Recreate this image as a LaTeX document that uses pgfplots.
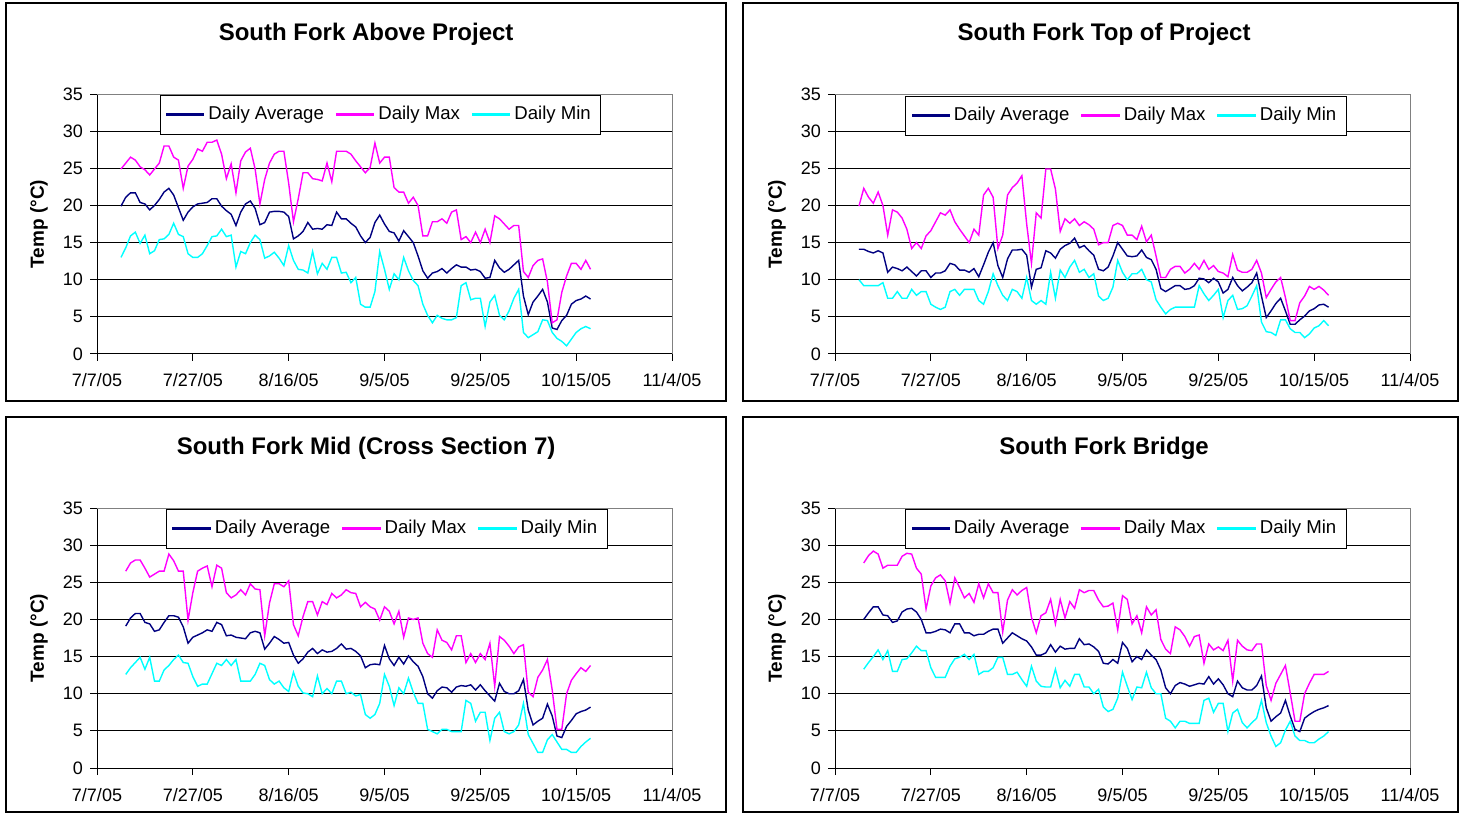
\documentclass[border=0pt]{standalone}
\usepackage{fontspec}
\setmainfont{Liberation Sans}
\usepackage{pgfplots}
\usepackage{pgfplotstable}
\pgfplotsset{compat=1.18}

\definecolor{avgc}{RGB}{0,0,128}
\definecolor{maxc}{RGB}{255,0,255}
\definecolor{minc}{RGB}{0,255,255}

% Daily water temperature (deg C); day 0 = 7/7/05
\pgfplotstableread{
day avg max min
5 19.9 24.9 13.0
6 21.1 25.7 14.3
7 21.7 26.5 15.9
8 21.7 26.1 16.4
9 20.4 25.2 14.9
10 20.2 24.8 16.0
11 19.4 24.1 13.5
12 20.0 24.9 13.9
13 20.8 25.7 15.4
14 21.8 28.0 15.5
15 22.3 28.0 16.1
16 21.4 26.5 17.6
17 19.7 26.1 16.1
18 18.0 22.3 15.8
19 19.1 25.3 13.5
20 19.8 26.2 13.0
21 20.2 27.6 13.0
22 20.3 27.3 13.5
23 20.4 28.5 14.6
24 20.9 28.5 15.8
25 20.9 28.8 15.9
26 19.9 26.9 16.8
27 19.3 23.6 15.8
28 18.8 25.6 16.0
29 17.3 21.7 11.7
30 19.1 26.0 13.8
31 20.2 27.2 13.5
32 20.6 27.7 15.0
33 19.6 24.9 16.0
34 17.4 20.2 15.4
35 17.7 23.5 12.9
36 19.1 25.7 13.2
37 19.2 26.9 13.7
38 19.2 27.3 12.9
39 19.1 27.3 11.9
40 18.5 23.0 14.6
41 15.5 17.8 12.6
42 15.9 20.9 11.4
43 16.5 24.4 11.3
44 17.7 24.4 10.9
45 16.8 23.6 13.8
46 16.9 23.5 10.8
47 16.8 23.3 12.2
48 17.4 25.7 11.4
49 17.3 23.2 13.0
50 19.1 27.3 13.0
51 18.2 27.3 10.9
52 18.2 27.3 11.0
53 17.6 26.9 9.6
54 17.1 26.0 10.3
55 15.9 25.2 6.7
56 15.0 24.4 6.3
57 15.7 25.1 6.3
58 17.7 28.4 8.4
59 18.7 25.7 13.8
60 17.5 26.5 11.4
61 16.5 26.5 8.7
62 16.3 22.4 10.8
63 15.2 21.8 10.0
64 16.6 21.8 13.0
65 15.8 20.3 11.2
66 15.0 21.1 9.9
67 13.2 20.0 9.2
68 11.2 15.9 6.7
69 10.2 15.9 5.2
70 10.9 17.8 4.2
71 11.1 17.8 5.2
72 11.5 18.2 4.8
73 10.9 17.6 4.6
74 11.5 19.1 4.6
75 12.0 19.4 4.9
76 11.7 15.4 9.2
77 11.7 15.8 9.6
78 11.3 15.0 7.3
79 11.4 16.4 7.5
80 11.1 15.0 7.5
81 10.2 16.8 3.7
82 10.3 15.0 7.0
83 12.6 18.6 7.9
84 11.6 18.2 5.2
85 11.0 17.5 4.6
86 11.4 16.8 5.8
87 12.0 17.3 7.5
88 12.6 17.3 8.7
89 7.8 11.1 2.9
90 5.3 10.3 2.2
91 7.0 11.9 2.6
92 7.8 12.6 3.0
93 8.7 12.8 4.6
94 7.0 9.7 4.5
95 3.5 4.2 2.9
96 3.3 4.6 2.1
97 4.5 8.3 1.7
98 5.2 10.5 1.1
99 6.7 12.2 2.0
100 7.2 12.2 2.9
101 7.4 11.4 3.4
102 7.8 12.6 3.7
103 7.4 11.4 3.4
}\aboveproject

\pgfplotstableread{
day avg max min
5 14.1 19.9 10.0
6 14.1 22.3 9.2
7 13.8 21.1 9.2
8 13.6 20.3 9.2
9 13.9 21.8 9.2
10 13.6 20.0 9.6
11 11.0 16.0 7.5
12 11.7 19.4 7.5
13 11.5 19.1 8.4
14 11.2 18.3 7.5
15 11.7 16.8 7.5
16 11.1 14.2 8.7
17 10.5 15.0 7.9
18 11.2 14.2 8.4
19 11.2 15.9 8.4
20 10.3 16.6 6.7
21 10.9 17.8 6.3
22 10.9 19.0 6.0
23 11.2 18.7 6.3
24 12.2 19.4 8.4
25 12.0 17.8 8.7
26 11.3 16.8 7.9
27 11.3 15.9 8.7
28 11.0 15.0 8.7
29 11.5 16.8 8.7
30 10.4 16.0 7.2
31 12.0 21.4 6.7
32 13.7 22.3 8.4
33 15.0 21.1 10.8
34 11.9 14.2 9.2
35 10.3 16.0 7.9
36 12.8 21.4 7.2
37 14.0 22.4 8.7
38 14.0 23.0 8.4
39 14.1 24.0 7.5
40 13.3 17.5 10.3
41 9.0 12.2 7.2
42 11.4 19.0 6.7
43 11.6 18.3 7.2
44 13.9 24.9 6.7
45 13.6 24.9 11.0
46 12.9 22.2 7.5
47 14.1 16.5 11.3
48 14.6 18.2 10.3
49 14.9 17.6 11.7
50 15.6 18.2 12.6
51 14.3 17.3 11.0
52 14.6 17.8 11.4
53 13.9 17.4 10.3
54 13.3 16.8 10.8
55 11.4 14.7 7.8
56 11.2 15.0 7.2
57 11.7 15.0 7.5
58 13.2 17.3 9.0
59 15.0 17.6 12.6
60 14.1 17.3 11.0
61 13.2 16.0 10.0
62 13.1 16.0 10.8
63 13.2 15.4 10.8
64 14.0 17.2 11.4
65 13.0 15.1 10.0
66 12.7 16.0 9.7
67 11.4 13.2 7.3
68 8.8 10.3 6.3
69 8.4 10.3 5.4
70 8.8 11.4 6.0
71 9.2 11.8 6.3
72 9.2 11.8 6.3
73 8.7 10.9 6.3
74 8.8 11.4 6.3
75 9.2 12.2 6.3
76 10.2 11.4 9.2
77 10.1 12.6 8.1
78 9.6 11.4 7.2
79 10.2 11.9 7.9
80 9.7 11.1 8.7
81 8.2 10.9 4.9
82 8.7 10.4 7.2
83 10.3 13.4 7.9
84 9.2 11.3 6.0
85 8.5 11.0 6.1
86 9.0 11.0 6.5
87 9.6 11.4 7.8
88 10.9 12.6 9.2
89 7.8 10.9 4.3
90 4.9 7.6 3.0
91 5.8 8.7 2.9
92 6.8 9.7 2.5
93 7.5 10.3 4.6
94 5.8 7.6 4.6
95 4.0 4.5 3.4
96 4.0 4.5 2.9
97 4.6 6.9 2.9
98 5.1 7.8 2.2
99 5.8 9.1 2.7
100 6.1 8.7 3.5
101 6.6 9.1 3.8
102 6.7 8.6 4.5
103 6.3 7.9 3.8
}\topofproject

\pgfplotstableread{
day avg max min
6 19.1 26.5 12.6
7 20.2 27.6 13.5
8 20.8 28.0 14.2
9 20.8 28.0 14.9
10 19.6 26.9 13.3
11 19.4 25.7 14.9
12 18.4 26.1 11.7
13 18.6 26.5 11.7
14 19.6 26.5 13.2
15 20.5 28.8 13.8
16 20.5 27.9 14.6
17 20.3 26.5 15.2
18 19.0 26.5 14.2
19 16.8 19.9 14.1
20 17.6 23.6 12.3
21 17.9 26.5 11.0
22 18.2 26.9 11.3
23 18.6 27.2 11.3
24 18.4 24.4 12.7
25 19.6 27.3 14.1
26 19.3 26.9 13.8
27 17.8 23.6 14.6
28 17.9 22.9 13.8
29 17.6 23.3 14.6
30 17.5 24.0 11.7
31 17.4 23.3 11.7
32 18.2 24.8 11.7
33 18.4 24.1 12.6
34 18.2 24.0 14.1
35 16.0 17.8 13.8
36 16.8 22.2 11.9
37 17.7 24.8 11.3
38 17.3 24.8 11.7
39 16.8 24.4 10.8
40 16.9 25.2 10.3
41 15.2 19.3 12.9
42 14.1 17.8 11.0
43 14.7 20.4 10.1
44 15.6 22.4 10.0
45 16.1 22.4 9.6
46 15.4 20.6 12.4
47 15.9 22.4 10.0
48 15.6 22.0 10.7
49 15.7 23.5 10.0
50 16.1 22.9 11.7
51 16.7 23.3 11.7
52 16.0 24.0 10.0
53 16.1 23.6 10.2
54 15.7 23.5 9.7
55 15.1 21.7 9.9
56 13.5 22.3 7.2
57 13.9 21.7 6.7
58 14.0 21.4 7.2
59 13.9 19.9 8.7
60 16.5 21.7 12.6
61 14.7 21.1 11.0
62 13.8 19.4 8.4
63 14.9 21.1 10.8
64 14.0 17.6 10.0
65 15.1 20.2 12.1
66 14.3 20.0 10.2
67 13.7 20.2 8.7
68 12.3 16.8 8.7
69 10.0 15.4 5.2
70 9.4 14.9 4.9
71 10.4 18.6 4.6
72 10.9 17.2 5.2
73 10.8 16.9 5.2
74 10.2 15.9 4.9
75 10.9 17.8 4.9
76 11.1 17.8 4.9
77 11.0 14.2 9.1
78 11.2 15.4 8.7
79 10.5 14.2 6.3
80 11.2 15.4 7.5
81 10.4 14.6 7.5
82 9.7 16.8 3.7
83 9.0 11.0 6.7
84 11.4 17.7 7.5
85 10.3 17.2 4.9
86 10.0 16.4 4.6
87 10.0 15.4 4.9
88 10.4 16.3 5.8
89 11.9 16.6 8.7
90 7.8 10.2 4.5
91 5.8 9.6 3.3
92 6.3 12.2 2.1
93 6.7 13.2 2.1
94 8.6 14.6 3.8
95 7.0 10.5 4.5
96 4.3 5.2 3.5
97 4.1 5.2 2.5
98 5.6 10.0 2.5
99 6.4 11.8 2.1
100 7.3 12.7 2.1
101 7.6 13.5 2.9
102 7.8 13.0 3.5
103 8.2 13.8 4.0
}\midxsseven

\pgfplotstableread{
day avg max min
6 20.0 27.6 13.3
7 20.9 28.6 14.2
8 21.7 29.2 15.0
9 21.7 28.8 15.9
10 20.6 26.9 14.6
11 20.5 27.3 15.8
12 19.6 27.3 13.0
13 19.8 27.3 13.0
14 21.0 28.5 14.6
15 21.4 28.9 14.7
16 21.5 28.8 15.5
17 21.0 26.9 16.4
18 20.0 26.1 15.8
19 18.2 21.4 15.8
20 18.2 24.5 13.5
21 18.4 25.6 12.2
22 18.7 26.0 12.2
23 18.6 25.2 12.2
24 18.2 22.2 13.7
25 19.4 25.6 14.7
26 19.4 24.3 14.9
27 18.2 22.9 15.3
28 18.2 23.5 14.6
29 17.8 22.3 15.3
30 18.0 24.8 12.6
31 18.0 22.9 13.0
32 18.4 24.8 13.0
33 18.7 23.6 13.5
34 18.7 23.6 14.9
35 16.8 18.3 14.9
36 17.5 22.6 12.6
37 18.2 24.0 12.6
38 17.8 23.3 12.9
39 17.4 23.9 11.9
40 17.1 24.3 11.0
41 16.3 20.3 13.7
42 15.2 18.2 11.7
43 15.2 20.5 11.0
44 15.5 20.9 10.9
45 16.6 22.7 10.9
46 15.6 19.4 13.3
47 16.4 22.7 10.8
48 16.0 20.2 11.8
49 16.1 22.4 11.0
50 16.1 21.5 12.6
51 17.4 24.0 12.6
52 16.6 23.6 10.9
53 16.7 23.9 10.9
54 16.3 23.9 10.0
55 15.7 22.6 10.6
56 14.1 21.7 8.2
57 14.0 21.8 7.6
58 14.6 22.2 7.9
59 14.1 18.6 9.4
60 16.9 23.2 12.9
61 16.1 22.7 11.0
62 14.3 19.4 9.2
63 15.0 20.5 10.9
64 14.6 18.2 10.8
65 15.9 21.7 12.9
66 15.2 20.6 10.8
67 14.6 21.3 10.0
68 13.2 17.3 10.0
69 10.8 16.0 6.7
70 10.0 15.4 6.3
71 11.1 19.0 5.4
72 11.5 18.6 6.3
73 11.3 17.7 6.3
74 11.0 16.4 6.0
75 11.2 17.7 6.0
76 11.4 17.9 6.0
77 11.3 14.1 9.1
78 12.3 16.7 9.4
79 11.3 15.9 7.5
80 12.0 16.3 8.7
81 11.2 15.8 8.7
82 10.0 17.2 4.9
83 9.6 11.7 7.4
84 11.7 17.2 7.9
85 10.8 16.4 6.1
86 10.5 15.9 5.4
87 10.5 15.8 6.1
88 11.1 16.7 6.7
89 12.4 16.7 9.1
90 8.1 11.1 6.1
91 6.3 9.1 4.3
92 6.9 11.4 2.9
93 7.4 12.6 3.4
94 9.1 13.8 5.1
95 7.0 10.1 6.3
96 5.2 6.3 4.3
97 4.9 6.3 3.7
98 6.7 10.0 3.7
99 7.2 11.4 3.4
100 7.6 12.6 3.4
101 7.9 12.6 3.9
102 8.1 12.6 4.3
103 8.4 13.0 4.9
}\bridge

\pgfplotsset{
  temppanel/.style={
    scale only axis, width=287.5pt, height=130pt,
    xmin=0, xmax=120, ymin=0, ymax=35,
    xtick={0,20,...,120},
    xticklabels={7/7/05,7/27/05,8/16/05,9/5/05,9/25/05,10/15/05,11/4/05},
    ytick={0,5,...,35},
    axis x line*=bottom, axis y line*=left,
    axis line style={black, line width=0.5pt, -},
    ymajorgrids, major grid style={black, line width=0.5pt},
    tick align=outside, major tick length=3.5pt,
    tick style={black, line width=0.5pt},
    ticklabel style={font=\fontsize{9}{11}\selectfont},
    /pgf/number format/assume math mode=true,
    xticklabel style={anchor=base, yshift=-13pt},
    yticklabel style={anchor=east},
    title style={at={(0.468,1.182)}, anchor=center,
      font=\fontsize{12}{14}\selectfont\bfseries},
    ylabel={Temp (°C)},
    ylabel style={at={(-0.101,0.5)}, anchor=center,
      font=\fontsize{9.5}{11}\selectfont\bfseries},
    legend columns=3,
    legend style={draw=black, fill=white,
      font=\fontsize{9.3}{11}\selectfont,
      inner xsep=3pt, inner ysep=3.5pt, anchor=north west,
      /tikz/every even column/.append style={column sep=4pt},
      cells={anchor=west}},
    % legend sample: a thin filled bar in the series colour
    legend image code/.code={\fill[#1] (0pt,-0.27pt) rectangle (18.5pt,0.27pt);},
    every axis plot/.append style={line width=0.7pt, mark=none},
    extra description/.code={\draw[gray, line width=0.5pt] (0,1) -- (1,1) -- (1,0);},
  }
}

\begin{document}
\begin{tikzpicture}
\path[use as bounding box] (0,0) rectangle (730.5pt,407pt);
% panel frames
\draw[line width=0.6pt] (3pt,405.5pt) rectangle (363pt,206.5pt);
\draw[line width=0.6pt] (371.5pt,405.5pt) rectangle (729pt,206.5pt);
\draw[line width=0.6pt] (3pt,198.5pt) rectangle (363pt,1pt);
\draw[line width=0.6pt] (371.5pt,198.5pt) rectangle (729pt,1pt);

\begin{axis}[temppanel, at={(48.5pt,230pt)}, anchor=south west,
  title={South Fork Above Project}, legend style={at={(0.109,0.996)}}]
\addplot[avgc] table[x=day,y=avg] {\aboveproject};
\addlegendentry{Daily Average}
\addplot[maxc] table[x=day,y=max] {\aboveproject};
\addlegendentry{Daily Max}
\addplot[minc] table[x=day,y=min] {\aboveproject};
\addlegendentry{Daily Min}
\end{axis}

\begin{axis}[temppanel, at={(417.5pt,230pt)}, anchor=south west,
  title={South Fork Top of Project}, legend style={at={(0.122,0.992)}}]
\addplot[avgc] table[x=day,y=avg] {\topofproject};
\addlegendentry{Daily Average}
\addplot[maxc] table[x=day,y=max] {\topofproject};
\addlegendentry{Daily Max}
\addplot[minc] table[x=day,y=min] {\topofproject};
\addlegendentry{Daily Min}
\end{axis}

\begin{axis}[temppanel, at={(48.5pt,23pt)}, anchor=south west,
  title={South Fork Mid (Cross Section 7)}, legend style={at={(0.12,0.996)}}]
\addplot[avgc] table[x=day,y=avg] {\midxsseven};
\addlegendentry{Daily Average}
\addplot[maxc] table[x=day,y=max] {\midxsseven};
\addlegendentry{Daily Max}
\addplot[minc] table[x=day,y=min] {\midxsseven};
\addlegendentry{Daily Min}
\end{axis}

\begin{axis}[temppanel, at={(417.5pt,23pt)}, anchor=south west,
  title={South Fork Bridge}, legend style={at={(0.122,0.996)}}]
\addplot[avgc] table[x=day,y=avg] {\bridge};
\addlegendentry{Daily Average}
\addplot[maxc] table[x=day,y=max] {\bridge};
\addlegendentry{Daily Max}
\addplot[minc] table[x=day,y=min] {\bridge};
\addlegendentry{Daily Min}
\end{axis}
\end{tikzpicture}
\end{document}
